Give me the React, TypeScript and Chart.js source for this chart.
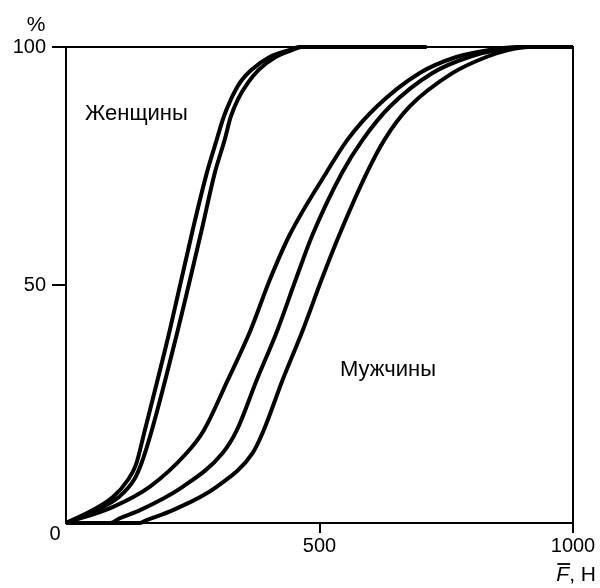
import React, { useEffect, useRef } from "react";
import { Chart, registerables } from "chart.js";

Chart.register(...registerables);

// Women curves
const womenAX = [0, 53, 92.5, 122, 137.8, 155.5, 204.7, 250, 277.6, 297.2, 311, 324.8, 342.5, 366, 401.6, 441, 460.6, 711];
const womenAY = [0, 2.73, 5.46, 9.03, 12.2, 19.5, 40.5, 61.6, 73.5, 80.5, 85.3, 88.9, 92.4, 95.2, 97.9, 99.4, 100, 100];
const womenBX = [0, 61, 104.3, 133.9, 147.6, 169.3, 220.5, 267.7, 293.3, 313, 324.8, 338.6, 358.3, 380, 413.4, 446.9, 464.6, 711];
const womenBY = [0, 2.73, 5.46, 9.03, 12.2, 19.5, 40.5, 61.6, 73.5, 80.5, 85.3, 88.9, 92.4, 95.2, 97.9, 99.4, 100, 100];

// Men curves
const menCX = [0, 93, 165, 238, 272, 319, 364, 402, 441, 514, 555, 612, 697, 770, 835, 894, 1000];
const menCY = [0, 3.4, 7.6, 14.7, 19.5, 30.0, 40.5, 51.1, 60.5, 73.7, 80.5, 87.4, 94.5, 97.9, 99.4, 100, 100];
const menDX = [0, 87, 106, 146, 230, 309, 337, 376, 417, 453, 486, 545, 585, 638, 722, 795, 854, 904, 1000];
const menDY = [0, 0, 1.0, 2.7, 7.6, 14.7, 19.5, 30.0, 40.5, 51.1, 60.5, 73.7, 80.5, 87.4, 94.5, 97.9, 99.4, 100, 100];
const menEX = [0, 146, 159, 211, 297, 368, 390, 427, 467, 504, 539, 594, 628, 677, 762, 829, 874, 913, 1000];
const menEY = [0, 0, 0.6, 2.7, 7.6, 14.7, 19.5, 30.0, 40.5, 51.1, 60.5, 73.7, 80.5, 87.4, 94.5, 97.9, 99.4, 100, 100];

const xTickValues = [0, 500, 1000];
const yTickValues = [0, 50, 100];
const womenLabel = "Женщины";
const menLabel = "Мужчины";
const yUnit = "%";
const xUnitSymbol = "F";
const xUnitRest = ", Н";

const FONT = "'Liberation Sans', Arial, Helvetica, sans-serif";

function toPoints(xs: number[], ys: number[]) {
  return xs.map((x, i) => ({ x, y: ys[i] }));
}

const annotations = {
  id: "annotations",
  beforeDatasetsDraw(chart: any) {
    const { ctx, chartArea } = chart;
    ctx.save();
    ctx.strokeStyle = "#000";
    ctx.lineWidth = 2;
    ctx.beginPath();
    ctx.moveTo(chartArea.left, chartArea.top);
    ctx.lineTo(chartArea.right, chartArea.top);
    ctx.lineTo(chartArea.right, chartArea.bottom);
    ctx.stroke();
    ctx.restore();
  },
  afterDraw(chart: any) {
    const { ctx, chartArea, scales } = chart;
    const x = scales.x;
    const y = scales.y;
    ctx.save();
    ctx.fillStyle = "#000";
    ctx.textBaseline = "middle";
    // labels inside the plot
    ctx.font = `22px ${FONT}`;
    ctx.textAlign = "left";
    ctx.fillText(womenLabel, chartArea.left + 19, 114);
    ctx.fillText(menLabel, 340, 370);
    // % unit
    ctx.font = `21px ${FONT}`;
    ctx.textAlign = "center";
    ctx.fillText(yUnit, 36, 25);
    // origin zero
    ctx.font = `20px ${FONT}`;
    ctx.fillText(String(yTickValues[0]), x.getPixelForValue(0) - 11, y.getPixelForValue(0) + 11);
    // x unit  F̄, Н
    ctx.font = `21px ${FONT}`;
    ctx.textAlign = "right";
    const restW = ctx.measureText(xUnitRest).width;
    const rightX = 596;
    const ty = 575;
    ctx.fillText(xUnitRest, rightX, ty);
    ctx.font = `italic 21px ${FONT}`;
    const fw = ctx.measureText(xUnitSymbol).width;
    const fx = rightX - restW;
    ctx.fillText(xUnitSymbol, fx, ty);
    ctx.strokeStyle = "#000";
    ctx.lineWidth = 1.8;
    ctx.beginPath();
    ctx.moveTo(fx - fw + 1, ty - 11);
    ctx.lineTo(fx + 1, ty - 11);
    ctx.stroke();
    ctx.restore();
  },
};

export default function App() {
  const ref = useRef<HTMLCanvasElement | null>(null);

  useEffect(() => {
    document.body.style.margin = "0";
    const canvas = ref.current;
    if (!canvas) return;
    const line = (xs: number[], ys: number[], label: string) => ({
      label,
      data: toPoints(xs, ys),
      borderColor: "#000",
      backgroundColor: "#000",
      borderWidth: 4,
      pointRadius: 0,
      cubicInterpolationMode: "monotone" as const,
      fill: false,
      clip: 6,
    });
    const tickColor = (c: any) => (c.tick && c.tick.value === 0 ? "rgba(0,0,0,0)" : "#000");
    const chart = new Chart(canvas, {
      type: "line",
      data: {
        datasets: [
          line(womenAX, womenAY, "Женщины 1"),
          line(womenBX, womenBY, "Женщины 2"),
          line(menCX, menCY, "Мужчины 1"),
          line(menDX, menDY, "Мужчины 2"),
          line(menEX, menEY, "Мужчины 3"),
        ],
      },
      options: {
        animation: false,
        responsive: false,
        layout: { padding: { left: 0, top: 47, right: 27, bottom: 0 } },
        plugins: { legend: { display: false }, tooltip: { enabled: false } },
        scales: {
          x: {
            type: "linear",
            min: 0,
            max: 1000,
            afterBuildTicks: (s: any) => {
              s.ticks = xTickValues.map((v) => ({ value: v }));
            },
            afterFit: (s: any) => {
              s.height = 65;
            },
            ticks: {
              color: "#000",
              font: { family: FONT, size: 20 },
              padding: 1,
              maxRotation: 0,
              autoSkip: false,
              callback: (v: any) => (v === 0 ? "" : String(v)),
            },
            grid: {
              drawOnChartArea: false,
              drawTicks: true,
              tickLength: 10,
              lineWidth: 2,
              color: tickColor,
            },
            border: { display: true, color: "#000", width: 2 },
          },
          y: {
            type: "linear",
            min: 0,
            max: 100,
            afterBuildTicks: (s: any) => {
              s.ticks = yTickValues.map((v) => ({ value: v }));
            },
            afterFit: (s: any) => {
              s.width = 66;
            },
            ticks: {
              color: "#000",
              font: { family: FONT, size: 20 },
              padding: 6,
              autoSkip: false,
              callback: (v: any) => (v === 0 ? "" : String(v)),
            },
            grid: {
              drawOnChartArea: false,
              drawTicks: true,
              tickLength: 14,
              lineWidth: 2,
              color: tickColor,
            },
            border: { display: true, color: "#000", width: 2 },
          },
        },
      },
      plugins: [annotations],
    });
    return () => chart.destroy();
  }, []);

  return (
    <div style={{ width: 600, height: 588 }}>
      <canvas ref={ref} width={600} height={588} style={{ display: "block", width: 600, height: 588 }} />
    </div>
  );
}
